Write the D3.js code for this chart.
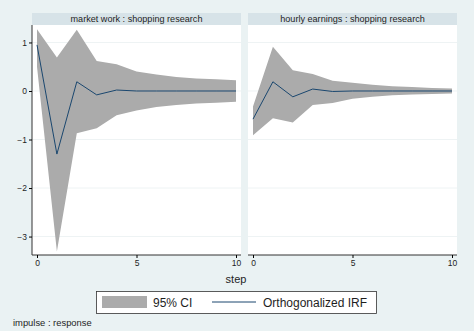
<!DOCTYPE html>
<html>
<head>
<meta charset="utf-8">
<script src="https://cdn.jsdelivr.net/npm/d3@7"></script>
<style>
  body { margin: 0; background: #eaf2f3; }
  svg { display: block; font-family: "Liberation Sans", Arial, sans-serif; }
</style>
</head>
<body>
<svg id="chart" width="474" height="331"></svg>
<script>
// steps 0..10
const steps = [0, 1, 2, 3, 4, 5, 6, 7, 8, 9, 10];

// market work : shopping research
const mwIrf   = [0.95, -1.30, 0.19, -0.08, 0.02, 0.00, 0.00, 0.00, 0.00, 0.00, 0.00];
const mwUpper = [1.27, 0.69, 1.26, 0.62, 0.55, 0.40, 0.34, 0.29, 0.26, 0.24, 0.22];
const mwLower = [0.50, -3.31, -0.87, -0.77, -0.50, -0.40, -0.33, -0.29, -0.26, -0.24, -0.22];

// hourly earnings : shopping research
const heIrf   = [-0.58, 0.19, -0.12, 0.04, -0.01, 0.00, 0.00, 0.00, 0.00, 0.00, 0.00];
const heUpper = [-0.32, 0.91, 0.43, 0.35, 0.21, 0.17, 0.13, 0.10, 0.08, 0.06, 0.05];
const heLower = [-0.91, -0.56, -0.65, -0.29, -0.25, -0.16, -0.12, -0.09, -0.07, -0.06, -0.05];

const panelTitles = ["market work : shopping research", "hourly earnings : shopping research"];
const yTicks = [-3, -2, -1, 0, 1];
const xTicks = [0, 5, 10];

const panels = [
  { title: panelTitles[0], irf: mwIrf, upper: mwUpper, lower: mwLower, x0: 32, x1: 241, yaxis: true },
  { title: panelTitles[1], irf: heIrf, upper: heUpper, lower: heLower, x0: 248, x1: 457, yaxis: false }
];

const svg = d3.select("#chart");
const plotTop = 25, plotBottom = 255;
const bandColor = "#ababab", lineColor = "#1a476f", textColor = "#1e1e1e";

const y = d3.scaleLinear().domain([-3.38, 1.36]).range([plotBottom, plotTop]);

panels.forEach(p => {
  const x = d3.scaleLinear().domain([0, 10]).range([p.x0 + 5, p.x1 - 5]);
  const g = svg.append("g");

  // title strip
  g.append("rect").attr("x", p.x0).attr("y", 13).attr("width", p.x1 - p.x0).attr("height", 12)
    .attr("fill", "#d7e3e8");
  g.append("text").attr("x", (p.x0 + p.x1) / 2).attr("y", 22.3).attr("text-anchor", "middle")
    .attr("font-size", 9.1).attr("fill", textColor).text(p.title);

  // plot region
  g.append("rect").attr("x", p.x0).attr("y", plotTop).attr("width", p.x1 - p.x0).attr("height", plotBottom - plotTop)
    .attr("fill", "#fff");

  // grid
  g.selectAll(".grid").data(yTicks).enter().append("line")
    .attr("x1", p.x0).attr("x2", p.x1).attr("y1", d => y(d)).attr("y2", d => y(d))
    .attr("stroke", "#eef3f4").attr("stroke-width", 1);

  // CI band
  const area = d3.area().x((d, i) => x(steps[i])).y0((d, i) => y(p.lower[i])).y1(d => y(d));
  g.append("path").datum(p.upper).attr("d", area).attr("fill", bandColor);

  // IRF line
  const line = d3.line().x((d, i) => x(steps[i])).y(d => y(d));
  g.append("path").datum(p.irf).attr("d", line).attr("fill", "none")
    .attr("stroke", lineColor).attr("stroke-width", 1);

  // x axis
  const xa = g.append("g").attr("transform", `translate(0,${plotBottom})`)
    .call(d3.axisBottom(x).tickValues(xTicks).tickSize(3).tickPadding(2).tickFormat(d3.format("d")));
  xa.select(".domain").attr("d", `M${p.x0},0H${p.x1}`).attr("stroke", "#333");
  xa.selectAll("text").attr("font-size", 8.5).attr("fill", textColor).attr("font-family", null);

  if (p.yaxis) {
    const ya = g.append("g").attr("transform", `translate(${p.x0},0)`)
      .call(d3.axisLeft(y).tickValues(yTicks).tickSize(3).tickPadding(2)
        .tickFormat(d => d < 0 ? "\u2212" + Math.abs(d) : d));
    ya.select(".domain").attr("d", `M0,${plotTop}V${plotBottom}`).attr("stroke", "#333");
    ya.selectAll("text").attr("font-size", 8.5).attr("fill", textColor).attr("font-family", null);
  }
});

// x title
svg.append("text").attr("x", 236).attr("y", 283).attr("text-anchor", "middle")
  .attr("font-size", 11).attr("fill", textColor).text("step");

// legend
const lg = svg.append("g");
lg.append("rect").attr("x", 96.5).attr("y", 291.5).attr("width", 280).attr("height", 22)
  .attr("fill", "#fff").attr("stroke", "#333").attr("stroke-width", 0.8);
lg.append("rect").attr("x", 102).attr("y", 296).attr("width", 45).attr("height", 12).attr("fill", bandColor);
lg.append("text").attr("x", 153).attr("y", 306.5).attr("font-size", 12).attr("fill", textColor).text("95% CI");
lg.append("line").attr("x1", 212).attr("x2", 256).attr("y1", 302).attr("y2", 302)
  .attr("stroke", lineColor).attr("stroke-width", 1);
lg.append("text").attr("x", 263).attr("y", 306.5).attr("font-size", 12).attr("fill", textColor).text("Orthogonalized IRF");

// note
svg.append("text").attr("x", 13).attr("y", 326).attr("font-size", 9.4).attr("fill", textColor).text("impulse : response");
</script>
</body>
</html>
